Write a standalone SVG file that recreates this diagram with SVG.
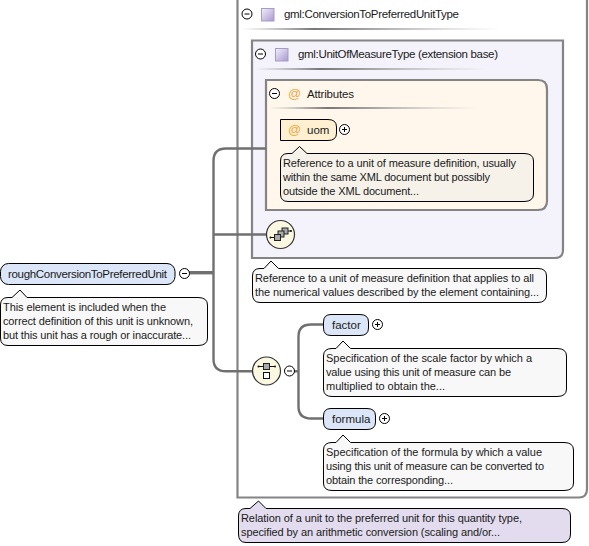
<svg xmlns="http://www.w3.org/2000/svg" width="589" height="546" viewBox="0 0 589 546">
<defs>
<linearGradient id="sep" x1="0" x2="1" y1="0" y2="0"><stop offset="0" stop-color="#999" stop-opacity="0"/><stop offset="0.28" stop-color="#777"/><stop offset="0.6" stop-color="#bbb"/><stop offset="1" stop-color="#ccc" stop-opacity="0"/></linearGradient>
<linearGradient id="sq" x1="0" x2="1" y1="0" y2="1"><stop offset="0" stop-color="#f4f0fa"/><stop offset="1" stop-color="#a898d0"/></linearGradient>
</defs>
<style>
text{font-family:"Liberation Sans",Arial,sans-serif;fill:#1a1a1a}
.t{font-size:11px}
.n{font-size:11.5px}
.box{stroke:#848484;stroke-width:2.2}
.conn{fill:none;stroke:#707070;stroke-width:2.4}
.note{stroke:#000;stroke-width:1;fill:#f8f8f8}
.el{fill:#dbe6f8;stroke:#000;stroke-width:1}
.at{font-size:13px;fill:#eeaa44}
.tg{fill:#fff;stroke:#000;stroke-width:1}
.tgl{stroke:#000;stroke-width:1;fill:none}
.sep{fill:url(#sep)}
.sq{fill:url(#sq);stroke:#a79bc8;stroke-width:1}
.cmp{fill:#fbf8e2;stroke:#333;stroke-width:1.2}
.ico{fill:#aaa;stroke:#222;stroke-width:1}
.icl{stroke:#111;stroke-width:1;fill:none}
</style>
<g id="type-outer">
<path d="M237.500 -2H587V489Q587 497.500 579 497.500H237.500Z" fill="#fff" class="box"/>
<circle class="tg" cx="247" cy="14" r="5"/><path class="tgl" d="M244.500 14H249.500"/>
<rect class="sq" x="261.500" y="8.500" width="12.500" height="12.500"/>
<text class="n" x="284" y="18" textLength="175">gml:ConversionToPreferredUnitType</text>
<rect class="sep" x="241" y="28" width="259" height="2"/>
</g>
<g id="type-base">
<path d="M252 40.500H563V250Q563 258 555 258H252Z" fill="#f4f2fb" class="box"/>
<circle class="tg" cx="260.500" cy="54" r="5"/><path class="tgl" d="M258 54H263"/>
<rect class="sq" x="275.500" y="48.500" width="12.500" height="12.500"/>
<text class="n" x="298" y="58" textLength="200">gml:UnitOfMeasureType (extension base)</text>
<rect class="sep" x="255" y="68" width="233" height="2"/>
</g>
<g id="attributes">
<path d="M266 80H538Q547 80 547 89V201Q547 210 538 210H266Z" fill="#fff7ec" class="box"/>
<circle class="tg" cx="274.500" cy="93.500" r="5"/><path class="tgl" d="M272 93.500H277"/>
<text class="at" x="288" y="98">@</text>
<text class="n" x="307" y="98" textLength="47">Attributes</text>
<rect class="sep" x="269" y="107" width="208" height="2"/>
</g>
<g id="connectors">
<path class="conn" style="stroke-width:3.4" d="M189 272.700H214"/>
<path class="conn" d="M266 148.500H226Q213.500 148.500 213.500 161V359Q213.500 371.300 226 371.300H254"/>
<path class="conn" d="M213.500 234.500H268"/>
<path class="conn" d="M294 371.300H299"/>
<path class="conn" d="M323 324.500H311Q298.500 324.500 298.500 336.500V406.500Q298.500 418.500 311 418.500H323"/>
</g>
<g id="uom">
<path d="M280.500 119.500H328Q336.500 119.500 336.500 127V133Q336.500 140.500 328 140.500H280.500Z" fill="#fff0d2" stroke="#000"/>
<text class="at" x="288" y="134">@</text>
<text class="n" x="307" y="134">uom</text>
<circle class="tg" cx="344.500" cy="129.500" r="5"/><path class="tgl" d="M342 129.500H347M344.500 127V132"/>
<path class="note" style="fill:#f6f2ea" d="M288 153.500H292L299.500 146.500L307 153.500H524Q533.500 153.500 533.500 161V194Q533.500 201.500 524 201.500H288Q280.500 201.500 280.500 194V161Q280.500 153.500 288 153.500Z"/>
<text class="t" x="283" y="167" textLength="233">Reference to a unit of measure definition, usually</text>
<text class="t" x="283" y="181" textLength="207">within the same XML document but possibly</text>
<text class="t" x="283" y="195" textLength="136">outside the XML document...</text>
</g>
<g id="sequence">
<circle class="cmp" cx="280.500" cy="234.500" r="14"/>
<path class="icl" d="M271 237.500H275M291 231H287"/>
<circle cx="270.500" cy="237.500" r="1" fill="#111"/><circle cx="291" cy="231" r="1" fill="#111"/>
<rect class="ico" x="282" y="228" width="6" height="6"/><rect class="ico" x="278" y="231" width="6" height="6"/><rect class="ico" x="274.500" y="234.500" width="6" height="6"/>
</g>
<path class="note" d="M260 268.500H264L271 261L278.500 268.500H538Q546.500 268.500 546.500 276V294Q546.500 302.500 538 302.500H260Q252.500 302.500 252.500 294V276Q252.500 268.500 260 268.500Z"/>
<text class="t" x="255" y="282" textLength="279">Reference to a unit of measure definition that applies to all</text>
<text class="t" x="255" y="296" textLength="284">the numerical values described by the element containing...</text>
<g id="roughConversionToPreferredUnit">
<rect class="el" x="0.500" y="263.500" width="174.500" height="21" rx="8"/>
<text class="n" x="8" y="278" textLength="159">roughConversionToPreferredUnit</text>
<circle class="tg" cx="184.500" cy="273.500" r="5"/><path class="tgl" d="M182 273.500H187"/>
<path class="note" d="M8 297.500H12L20 290L27 297.500H198Q207.500 297.500 207.500 305V338Q207.500 345.500 198 345.500H8Q0.500 345.500 0.500 338V305Q0.500 297.500 8 297.500Z"/>
<text class="t" x="3" y="311" textLength="163">This element is included when the</text>
<text class="t" x="3" y="325" textLength="190">correct definition of this unit is unknown,</text>
<text class="t" x="3" y="339" textLength="188">but this unit has a rough or inaccurate...</text>
</g>
<g id="choice">
<circle class="cmp" cx="266.500" cy="371" r="14"/>
<rect class="ico" x="263.500" y="363.500" width="6" height="6"/><rect x="263.500" y="372.500" width="6" height="6" fill="#fff" stroke="#111"/>
<path class="icl" d="M258.500 366.500H263M270 366.500H275"/>
<circle cx="258.500" cy="366.500" r="1" fill="#111"/><circle cx="275" cy="366.500" r="1" fill="#111"/>
<circle class="tg" cx="289.500" cy="371" r="5"/><path class="tgl" d="M287 371H292"/>
</g>
<g id="factor">
<path class="el" d="M331 314.500H360Q368.500 314.500 368.500 322V328Q368.500 335.500 360 335.500H331Q323.500 335.500 323.500 328V322Q323.500 314.500 331 314.500Z"/>
<text class="n" x="332" y="329">factor</text>
<circle class="tg" cx="377.500" cy="324.500" r="5"/><path class="tgl" d="M375 324.500H380M377.500 322V327"/>
<path class="note" d="M332 348.500H336L343 341L350.500 348.500H557Q566.500 348.500 566.500 356V389Q566.500 396.500 557 396.500H332Q323.500 396.500 323.500 389V356Q323.500 348.500 332 348.500Z"/>
<text class="t" x="326" y="362" textLength="206">Specification of the scale factor by which a</text>
<text class="t" x="326" y="376" textLength="185">value using this unit of measure can be</text>
<text class="t" x="326" y="390" textLength="119">multiplied to obtain the...</text>
</g>
<g id="formula">
<path class="el" d="M331 408.500H367Q375.500 408.500 375.500 416V422Q375.500 429.500 367 429.500H331Q323.500 429.500 323.500 422V416Q323.500 408.500 331 408.500Z"/>
<text class="n" x="332" y="423">formula</text>
<circle class="tg" cx="384.500" cy="418.500" r="5"/><path class="tgl" d="M382 418.500H387M384.500 416V421"/>
<path class="note" d="M332 442.500H336L343 435L350.500 442.500H564Q573.500 442.500 573.500 450V483Q573.500 490.500 564 490.500H332Q323.500 490.500 323.500 483V450Q323.500 442.500 332 442.500Z"/>
<text class="t" x="326" y="456" textLength="216">Specification of the formula by which a value</text>
<text class="t" x="326" y="470" textLength="218">using this unit of measure can be converted to</text>
<text class="t" x="326" y="484" textLength="127">obtain the corresponding...</text>
</g>
<path class="note" style="fill:#e2dcee" d="M246 508.500H250L258.500 501L266 508.500H562Q570.500 508.500 570.500 516V534Q570.500 542.500 562 542.500H246Q238.500 542.500 238.500 534V516Q238.500 508.500 246 508.500Z"/>
<text class="t" x="241" y="522" textLength="281">Relation of a unit to the preferred unit for this quantity type,</text>
<text class="t" x="241" y="536" textLength="259">specified by an arithmetic conversion (scaling and/or...</text>
</svg>
